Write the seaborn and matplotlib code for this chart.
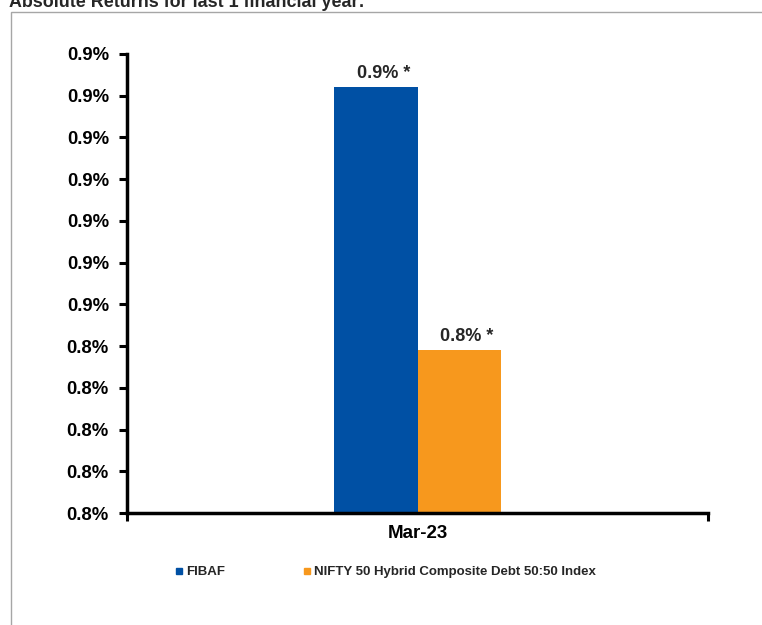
import matplotlib
matplotlib.use("Agg")
import matplotlib.pyplot as plt
from matplotlib.lines import Line2D
from matplotlib.patches import Rectangle
import pandas as pd
import seaborn as sns

# Absolute returns chart, single period with fund vs benchmark.
period = ["Mar-23"]
series = ["FIBAF", "NIFTY 50 Hybrid Composite Debt 50:50 Index"]
returns = [0.902, 0.839]
bar_labels = ["0.9% *", "0.8% *"]
colors = ["#0050a4", "#f7981d"]
y_ticks = [0.80, 0.81, 0.82, 0.83, 0.84, 0.85, 0.86, 0.87, 0.88, 0.89, 0.90, 0.91]
y_tick_labels = ["0.8%", "0.8%", "0.8%", "0.8%", "0.8%",
                 "0.9%", "0.9%", "0.9%", "0.9%", "0.9%", "0.9%", "0.9%"]
title = "Absolute Returns for last 1 financial year:"

df = pd.DataFrame({"period": period * len(series), "series": series, "value": returns})

sns.set_theme(style="white")
plt.rcParams["font.family"] = ["Liberation Sans", "DejaVu Sans"]

fig = plt.figure(figsize=(7.62, 6.25), dpi=100)
ax = fig.add_axes([127 / 762, 1 - 513 / 625, (708 - 127) / 762, (513 - 54) / 625])

sns.barplot(data=df, x="period", y="value", hue="series", palette=colors,
            hue_order=series, width=0.286, linewidth=0, saturation=1,
            legend=False, ax=ax)

ax.set_xlim(-0.5, 0.5)
ax.set_ylim(y_ticks[0], y_ticks[-1])
ax.set_yticks(y_ticks)
ax.set_yticklabels(y_tick_labels, fontsize=13.3, fontweight="bold")
ax.set_xticks([0])
ax.set_xticklabels(period, fontsize=13.5, fontweight="bold")
ax.set_xticks([-0.5, 0.5], minor=True)
ax.set_xlabel("")
ax.set_ylabel("")

ax.tick_params(axis="y", which="major", left=True, length=6, width=2.2, pad=7, colors="black")
ax.tick_params(axis="x", which="major", bottom=True, length=0, pad=9, colors="black")
ax.tick_params(axis="x", which="minor", bottom=True, length=6, width=2.2, colors="black")

for side in ["top", "right"]:
    ax.spines[side].set_visible(False)
for side in ["left", "bottom"]:
    ax.spines[side].set_linewidth(2.5)
    ax.spines[side].set_color("black")

# value labels above bars
for container, label in zip(ax.containers, bar_labels):
    bar = container.patches[0]
    ax.annotate(label, xy=(bar.get_x() + bar.get_width() / 2, bar.get_height()),
                xytext=(5.8, 6.8), textcoords="offset points",
                ha="center", va="baseline", fontsize=13, fontweight="bold")

handles = [Line2D([], [], marker="s", linestyle="", color=c, markersize=4.5) for c in colors]
fig.legend(handles, series, loc="center left", bbox_to_anchor=(175 / 762, 1 - 572 / 625),
           ncol=2, frameon=False, borderpad=0, borderaxespad=0,
           handlelength=0.6, handletextpad=0.25, columnspacing=5.9,
           prop={"weight": "bold", "size": 9.5})

fig.text(9 / 762, 1 - 7 / 625, title, fontsize=12.9, fontweight="bold", va="baseline", ha="left")

fig.add_artist(Rectangle((11 / 762, -0.1), 1.0, 1.1 - 11.7 / 625, transform=fig.transFigure,
                         fill=False, edgecolor="#a6a6a6", linewidth=1))

fig.savefig("out.png", dpi=100)
